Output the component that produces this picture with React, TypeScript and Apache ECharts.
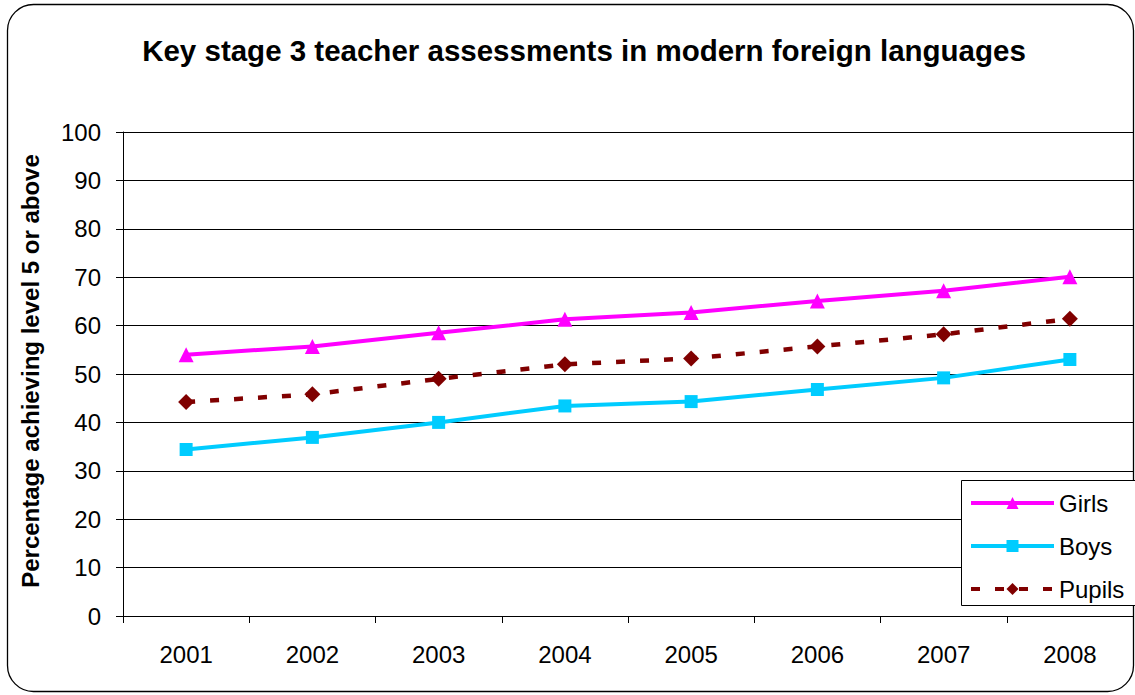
import React, { useEffect, useRef } from "react";
import * as echarts from "echarts";

const years = ["2001", "2002", "2003", "2004", "2005", "2006", "2007", "2008"];
const girls = [54, 55.7, 58.5, 61.3, 62.7, 65.1, 67.2, 70.1];
const boys = [34.4, 36.9, 40, 43.4, 44.3, 46.8, 49.2, 53];
const pupils = [44.2, 45.8, 49, 52, 53.2, 55.7, 58.2, 61.4];

const FONT = "Liberation Sans, Arial, sans-serif";

export default function App() {
  const ref = useRef<HTMLDivElement>(null);
  useEffect(() => {
    const chart = echarts.init(ref.current!, null, { renderer: "svg" });
    chart.setOption({
      animation: false,
      backgroundColor: "#fff",
      textStyle: { fontFamily: FONT },
      title: {
        text: "Key stage 3 teacher assessments in modern foreign languages",
        left: 579,
        top: 30,
        textAlign: "center",
        textStyle: { fontFamily: FONT, fontSize: 29.5, fontWeight: "bold", color: "#000" },
      },
      graphic: [
        {
          type: "rect",
          shape: { x: 7.5, y: 4.5, width: 1126, height: 687, r: 26 },
          style: { fill: "none", stroke: "#000", lineWidth: 1.3 },
          z: -1,
        },
        {
          type: "rect",
          shape: { x: 961.5, y: 480.5, width: 175, height: 125 },
          style: { fill: "#fff", stroke: "#000", lineWidth: 1 },
          z: 5,
        },
        {
          type: "text",
          x: 30,
          y: 371,
          rotation: Math.PI / 2,
          style: {
            text: "Percentage achieving level 5 or above",
            font: `bold 24px ${FONT}`,
            fill: "#000",
            align: "center",
            verticalAlign: "middle",
          },
        },
      ],
      legend: {
        orient: "vertical",
        left: 964,
        top: 486,
        itemWidth: 83,
        itemHeight: 15,
        itemGap: 19,
        z: 10,
        lineStyle: { width: 4 },
        textStyle: { fontFamily: FONT, fontSize: 24, color: "#000" },
        data: ["Girls", "Boys", "Pupils"],
      },
      grid: { left: 123, top: 132, right: 2, bottom: 79, containLabel: false },
      xAxis: {
        type: "category",
        data: years,
        boundaryGap: true,
        axisLine: { lineStyle: { color: "#000", width: 1 } },
        axisTick: { show: true, length: 7, alignWithLabel: false, lineStyle: { color: "#000" } },
        axisLabel: { fontFamily: FONT, fontSize: 24, color: "#000", margin: 26 },
      },
      yAxis: {
        type: "value",
        min: 0,
        max: 100,
        interval: 10,
        axisLine: { show: true, lineStyle: { color: "#000", width: 1 } },
        axisTick: { show: true, length: 7, lineStyle: { color: "#000" } },
        axisLabel: { fontFamily: FONT, fontSize: 24, color: "#000", margin: 22 },
        splitLine: { lineStyle: { color: "#000", width: 1 } },
      },
      series: [
        {
          name: "Girls",
          type: "line",
          data: girls,
          symbol: "triangle",
          symbolSize: 15,
          color: "#ff00ff",
          lineStyle: { color: "#ff00ff", width: 4 },
          itemStyle: { color: "#ff00ff" },
        },
        {
          name: "Boys",
          type: "line",
          data: boys,
          symbol: "rect",
          symbolSize: 13,
          color: "#00ccff",
          lineStyle: { color: "#00ccff", width: 4 },
          itemStyle: { color: "#00ccff" },
        },
        {
          name: "Pupils",
          type: "line",
          data: pupils,
          symbol: "diamond",
          symbolSize: 16,
          color: "#800000",
          lineStyle: { color: "#800000", width: 4.5, type: [9, 15] },
          itemStyle: { color: "#800000" },
        },
      ],
    });
    return () => chart.dispose();
  }, []);
  return (
    <div
      ref={ref}
      style={{ position: "fixed", left: 0, top: 0, width: 1135, height: 695 }}
    />
  );
}
